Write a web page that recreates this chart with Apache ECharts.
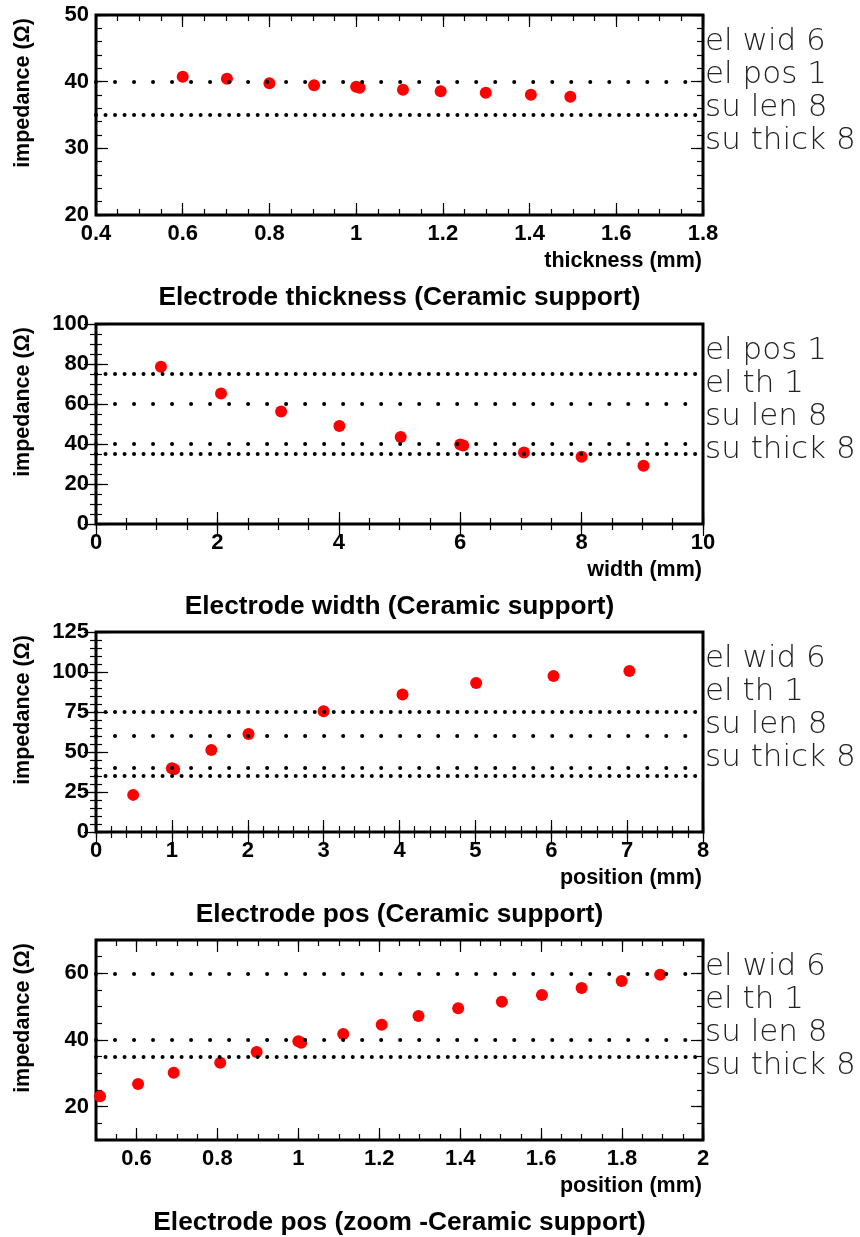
<!DOCTYPE html>
<html><head><meta charset="utf-8">
<script src="https://cdn.jsdelivr.net/npm/echarts@6/dist/echarts.min.js"></script>
<style>html,body{margin:0;padding:0;background:#fff}#c{width:860px;height:1237px}</style>
</head><body><div id="c"></div>
<script>
// ---------- data ----------
const titles = ['Electrode thickness (Ceramic support)', 'Electrode width (Ceramic support)', 'Electrode pos (Ceramic support)', 'Electrode pos (zoom -Ceramic support)'];
const xNames = ['thickness (mm)', 'width (mm)', 'position (mm)', 'position (mm)'];
const yName = 'impedance (\u03A9)';

// panel 1: thickness
const p1X = [0.6, 0.702, 0.8, 0.903, 1.0, 1.008, 1.108, 1.195, 1.299, 1.403, 1.494];
const p1Y = [40.75, 40.45, 39.75, 39.45, 39.25, 39.1, 38.8, 38.55, 38.35, 38.05, 37.75];
const p1Sparse = [40];
const p1Dense = [35];
const p1XTicks = [0.4, 0.6, 0.8, 1, 1.2, 1.4, 1.6, 1.8];
const p1YTicks = [20, 30, 40, 50];
const p1Notes = ['el wid 6', 'el pos 1', 'su len 8', 'su thick 8'];

// panel 2: width
const p2X = [1.07, 2.06, 3.05, 4.01, 5.02, 6.0, 6.05, 7.05, 8.0, 9.02];
const p2Y = [78.6, 65.2, 56.2, 49.0, 43.5, 39.8, 39.3, 35.7, 33.6, 29.1];
const p2Sparse = [60, 40];
const p2Dense = [75, 35];
const p2XTicks = [0, 2, 4, 6, 8, 10];
const p2YTicks = [0, 20, 40, 60, 80, 100];
const p2Notes = ['el pos 1', 'el th 1', 'su len 8', 'su thick 8'];

// panel 3: position
const p3X = [0.49, 1.0, 1.03, 1.52, 2.01, 3.0, 4.04, 5.01, 6.03, 7.03];
const p3Y = [23.2, 39.8, 39.2, 51.3, 61.3, 75.5, 86.0, 93.1, 97.5, 100.6];
const p3Sparse = [60, 40];
const p3Dense = [75, 35];
const p3XTicks = [0, 1, 2, 3, 4, 5, 6, 7, 8];
const p3YTicks = [0, 25, 50, 75, 100, 125];
const p3Notes = ['el wid 6', 'el th 1', 'su len 8', 'su thick 8'];

// panel 4: position (zoom)
const p4X = [0.51, 0.604, 0.692, 0.807, 0.897, 1.0, 1.007, 1.111, 1.206, 1.297, 1.395, 1.503, 1.602, 1.70, 1.799, 1.894];
const p4Y = [23.1, 26.8, 30.2, 33.2, 36.4, 39.6, 39.2, 41.8, 44.6, 47.2, 49.5, 51.5, 53.5, 55.6, 57.7, 59.6];
const p4Sparse = [60, 40];
const p4Dense = [35];
const p4XTicks = [0.6, 0.8, 1, 1.2, 1.4, 1.6, 1.8, 2];
const p4YTicks = [20, 40, 60];
const p4Notes = ['el wid 6', 'el th 1', 'su len 8', 'su thick 8'];

// axis ranges: [min, max, minor step]
const p1XRange = [0.4, 1.8, 0.05], p1YRange = [20, 50, 2];
const p2XRange = [0, 10, 0.5],    p2YRange = [0, 100, 5];
const p3XRange = [0, 8, 0.2],     p3YRange = [0, 125, 5];
const p4XRange = [0.5, 2, 0.05],  p4YRange = [10, 70, 5];

// ---------- layout / style ----------
const FONT = '"Liberation Sans", Arial, Helvetica, sans-serif';
const GL = 96, GW = 607, GH = 200;
const tops = [15, 324, 632, 940];

const panels = [
  {x: p1X, y: p1Y, sparse: p1Sparse, dense: p1Dense, xt: p1XTicks, yt: p1YTicks, xr: p1XRange, yr: p1YRange, notes: p1Notes},
  {x: p2X, y: p2Y, sparse: p2Sparse, dense: p2Dense, xt: p2XTicks, yt: p2YTicks, xr: p2XRange, yr: p2YRange, notes: p2Notes},
  {x: p3X, y: p3Y, sparse: p3Sparse, dense: p3Dense, xt: p3XTicks, yt: p3YTicks, xr: p3XRange, yr: p3YRange, notes: p3Notes},
  {x: p4X, y: p4Y, sparse: p4Sparse, dense: p4Dense, xt: p4XTicks, yt: p4YTicks, xr: p4XRange, yr: p4YRange, notes: p4Notes}
];

const grid = [], xAxis = [], yAxis = [], series = [], graphic = [];
const labelStyle = {fontFamily: FONT, fontWeight: 'bold', fontSize: 22, color: '#000'};

function majorAxis(pos, gi, range, ticks, showLabel, isX) {
  return {
    type: 'value', gridIndex: gi, position: pos, min: range[0], max: range[1],
    axisLine: {show: false}, splitLine: {show: false},
    axisTick: {show: true, inside: true, length: 12, customValues: ticks, lineStyle: {color: '#000', width: 1.2}},
    axisLabel: Object.assign({show: showLabel, customValues: ticks, margin: isX ? 8 : 7, hideOverlap: false,
      showMinLabel: true, showMaxLabel: true}, labelStyle)
  };
}
function minorAxis(pos, gi, range) {
  return {
    type: 'value', gridIndex: gi, position: pos, min: range[0], max: range[1], interval: range[2],
    axisLine: {show: false}, splitLine: {show: false}, axisLabel: {show: false},
    axisTick: {show: true, inside: true, length: 6, lineStyle: {color: '#000', width: 1.2}}
  };
}

panels.forEach((p, i) => {
  const top = tops[i];
  grid.push({left: GL, top: top, width: GW, height: GH, show: true, borderColor: '#000', borderWidth: 3, backgroundColor: 'transparent'});
  const base = xAxis.length;
  xAxis.push(majorAxis('bottom', i, p.xr, p.xt, true, true));
  xAxis.push(minorAxis('bottom', i, p.xr));
  xAxis.push(majorAxis('top', i, p.xr, p.xt, false, true));
  xAxis.push(minorAxis('top', i, p.xr));
  yAxis.push(majorAxis('left', i, p.yr, p.yt, true, false));
  yAxis.push(minorAxis('left', i, p.yr));
  yAxis.push(majorAxis('right', i, p.yr, p.yt, false, false));
  yAxis.push(minorAxis('right', i, p.yr));

  const mk = [];
  p.sparse.forEach(v => mk.push({yAxis: v, lineStyle: {color: '#000', width: 4, type: [0.01, 19], cap: 'round', opacity: 1}}));
  p.dense.forEach(v => mk.push({yAxis: v, lineStyle: {color: '#000', width: 4, type: [0.01, 9.5], cap: 'round', opacity: 1}}));

  series.push({
    type: 'scatter', xAxisIndex: base, yAxisIndex: base,
    data: p.x.map((xv, k) => [xv, p.y[k]]),
    symbol: 'circle', symbolSize: 12,
    itemStyle: {color: '#ff0000', opacity: 1},
    silent: true, animation: false,
    markLine: {silent: true, symbol: ['none', 'none'], label: {show: false}, animation: false, data: mk, z: 3}
  });

  // y axis name (top-aligned, rotated)
  graphic.push({type: 'text', x: 23, y: top + 3, rotation: Math.PI / 2,
    style: {text: yName, fontFamily: FONT, fontWeight: 'bold', fontSize: 21.5, fill: '#000', align: 'right', verticalAlign: 'middle'}});
  // x axis name (right-aligned)
  graphic.push({type: 'text', x: GL + GW - 1, y: top + GH + 46,
    style: {text: xNames[i], fontFamily: FONT, fontWeight: 'bold', fontSize: 21.5, fill: '#000', align: 'right', verticalAlign: 'middle'}});
  // panel title
  graphic.push({type: 'text', x: GL + GW / 2, y: top + GH + 83,
    style: {text: titles[i], fontFamily: FONT, fontWeight: 'bold', fontSize: 26.3, fill: '#000', align: 'center', verticalAlign: 'middle'}});
  // notes at right
  p.notes.forEach((t, k) => {
    graphic.push({type: 'text', x: GL + GW + 2, y: top + 27 + k * 33,
      style: {text: t, fontFamily: '"DejaVu Sans", sans-serif', fontWeight: 200, fontSize: 31, fill: '#222', align: 'left', verticalAlign: 'middle'}});
  });
});

const chart = echarts.init(document.getElementById('c'), null, {renderer: 'canvas'});
chart.setOption({animation: false, backgroundColor: '#fff', grid, xAxis, yAxis, series, graphic});
</script>
</body></html>
